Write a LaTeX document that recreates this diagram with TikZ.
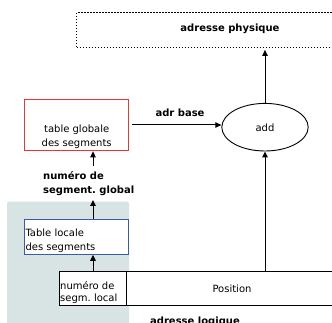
\documentclass[tikz,border=0pt]{standalone}
\usepackage{fontspec}
\setmainfont{DejaVu Sans}
\usetikzlibrary{arrows.meta,calc,shapes.geometric}
\definecolor{bgteal}{HTML}{D8E4E4}
\definecolor{boxred}{HTML}{EE3333}
\definecolor{boxblue}{HTML}{3A5AAA}
\tikzset{
  arr/.style={line width=1pt,-{Triangle[length=6pt,width=5.5pt]}},
  plainbox/.style={draw,line width=0.9pt,inner sep=0pt},
  txt/.style={inner sep=0pt,font=\fontsize{10}{14.5}\selectfont},
  btxt/.style={inner sep=0pt,font=\fontsize{10}{14.5}\selectfont\bfseries},
}
\begin{document}
\begin{tikzpicture}[x=1pt,y=-1pt]
\useasboundingbox (0,0) rectangle (332,323);
% background
\fill[bgteal,rounded corners=1.5pt] (7,201.7) rectangle (129,335);
% boxes
\node[plainbox,dash pattern=on 1.3pt off 1.7pt,line width=1.2pt,minimum width=306.6pt,minimum height=34.6pt] (phys) at (230,30) {};
\node[btxt] (physt) at (230,28.5) {adresse physique};
\node[draw,ellipse,line width=0.9pt,minimum width=86.4pt,minimum height=47.6pt,inner sep=0pt] (add) at (265,127.2) {};
\node[txt] (addt) at (265,128) {add};
\node[plainbox,draw=boxred,line width=1.3pt,minimum width=104pt,minimum height=51.4pt] (gtab) at (76.7,125) {};
\node[txt,align=center] (gtabt) at (76.7,136.5) {table globale\\des segments};
\node[btxt] (adrb) at (180,112.5) {adr base};
\node[btxt,align=left,anchor=west] (gseg) at (43,183.5) {numéro de\\segment.\ global};
\node[plainbox,draw=boxblue,fill=white,line width=1pt,minimum width=103.7pt,minimum height=35pt] (ltab) at (76.8,236.8) {};
\node[txt,align=left,anchor=west] (ltabt) at (25.3,240.5) {Table locale\\des segments};
\node[plainbox,fill=white,minimum width=67.4pt,minimum height=34.7pt] (loc) at (93,288.3) {};
\node[inner sep=0pt,align=left,anchor=west,font=\fontsize{10}{12}\selectfont] (loct) at (60,292.5) {numéro de\\segm.\ local};
\node[plainbox,fill=white,minimum width=210.6pt,minimum height=34.7pt] (pos) at (232,288.3) {};
\node[txt] (post) at (232,288.5) {Position};
\node[btxt] (logt) at (195,321.5) {adresse logique};
% coordinates
\coordinate (c1) at (93,200);
\coordinate (c2) at (93,166.5);
% connectors
\draw[arr] (loc.north) -- (loc.north |- ltab.south);
\draw[arr] (ltab.north -| c1) -- (c1);
\draw[arr] (c2) -- (c2 |- gtab.south);
\draw[arr,shorten <=3pt] (gtab.east) -- (gtab.east -| add.west);
\draw[arr] (pos.north -| add.south) -- (add.south);
\draw[arr,shorten >=2pt] (add.north) -- (add.north |- phys.south);
\end{tikzpicture}
\end{document}
